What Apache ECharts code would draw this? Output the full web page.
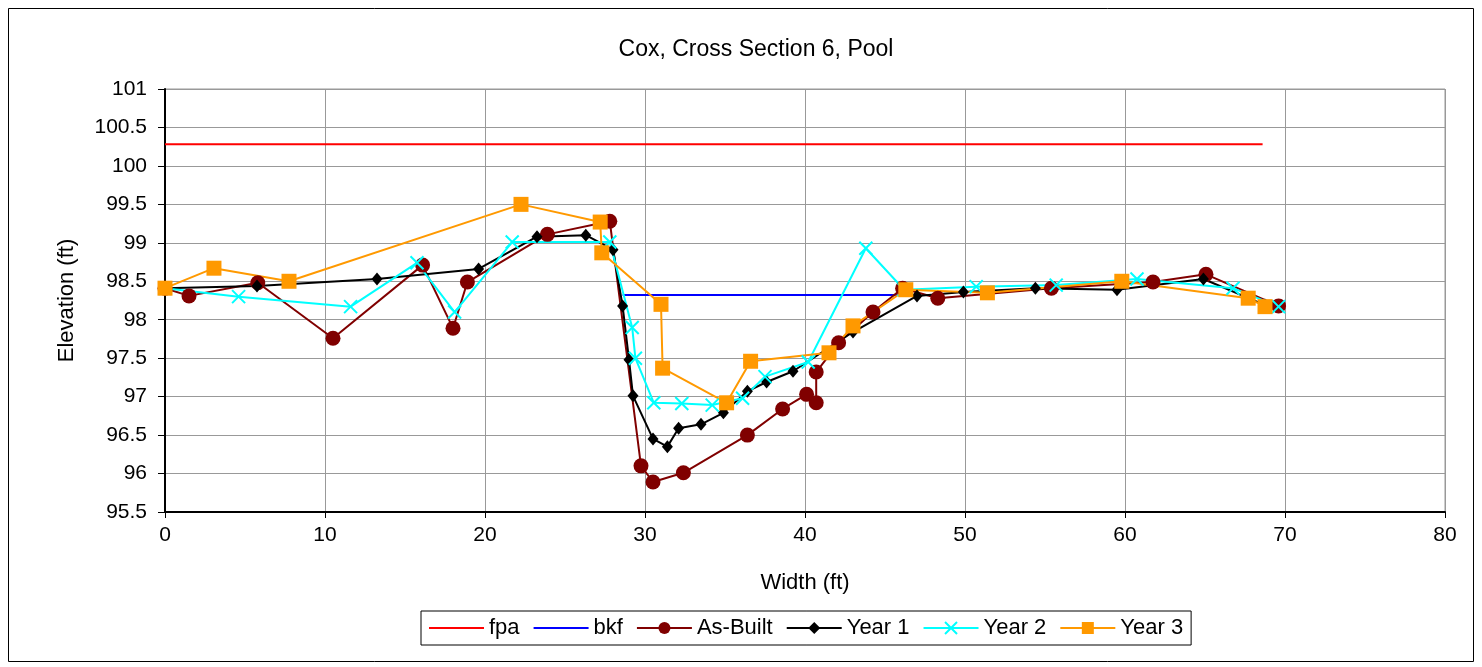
<!DOCTYPE html>
<html><head><meta charset="utf-8">
<script src="https://cdn.jsdelivr.net/npm/echarts@6/dist/echarts.min.js"></script>
<style>html,body{margin:0;padding:0;background:#fff}#c{width:1482px;height:667px}</style>
</head><body><div id="c"></div>
<script>
const titleText = 'Cox, Cross Section 6, Pool';
const fpa = [[0,100.28],[68.6,100.28]];
const bkf = [[28.6,98.32],[46.2,98.32]];
const asBuilt = [[0,98.41],[1.5,98.31],[5.8,98.48],[10.5,97.76],[16.1,98.71],[18.0,97.89],[18.9,98.49],[23.9,99.11],[27.8,99.28],[29.75,96.10],[30.5,95.89],[32.4,96.01],[36.4,96.50],[38.6,96.84],[40.1,97.03],[40.7,96.92],[40.7,97.32],[42.1,97.70],[44.25,98.10],[46.1,98.41],[48.3,98.28],[55.4,98.41],[61.75,98.49],[65.06,98.59],[69.6,98.18]];
const year1 = [[0,98.41],[5.75,98.44],[13.25,98.53],[19.6,98.66],[23.25,99.08],[26.3,99.10],[28.0,98.91],[28.6,98.18],[29.0,97.48],[29.25,97.01],[30.5,96.45],[31.4,96.35],[32.1,96.59],[33.5,96.64],[34.9,96.79],[36.4,97.07],[37.6,97.19],[39.25,97.33],[43.0,97.84],[47.0,98.31],[49.9,98.36],[54.4,98.41],[59.5,98.39],[64.9,98.53],[68.75,98.19]];
const year2 = [[0,98.41],[4.6,98.30],[11.6,98.17],[15.75,98.74],[18.1,98.10],[21.7,99.01],[27.8,99.01],[29.2,97.90],[29.4,97.50],[30.55,96.92],[32.3,96.91],[34.2,96.89],[36.1,96.98],[37.5,97.26],[40.2,97.45],[43.8,98.93],[46.2,98.39],[50.7,98.43],[55.7,98.45],[60.75,98.53],[66.75,98.41],[69.6,98.17]];
const year3 = [[0,98.41],[3.06,98.67],[7.75,98.50],[22.25,99.50],[27.2,99.27],[27.3,98.87],[31.0,98.20],[31.1,97.37],[35.1,96.92],[36.6,97.46],[41.5,97.57],[43.0,97.92],[46.3,98.39],[51.4,98.35],[59.8,98.50],[67.7,98.28],[68.75,98.17]];
const xLabel = 'Width (ft)';
const yLabel = 'Elevation (ft)';

const font = 'Liberation Sans, Arial, sans-serif';
const chart = echarts.init(document.getElementById('c'));
function ser(name, data, color, symbol, size, extra) {
  return Object.assign({
    name, type: 'line', data, symbol, symbolSize: size,
    showSymbol: symbol !== 'none',
    lineStyle: {color, width: 2},
    itemStyle: {color, borderColor: color, borderWidth: 0},
    animation: false
  }, extra || {});
}
chart.setOption({
  animation: false,
  backgroundColor: '#fff',
  title: {text: titleText, left: 751, top: 33, textAlign: 'center',
    textStyle: {fontFamily: font, fontSize: 23, fontWeight: 'normal', color: '#000'}},
  graphic: [{type: 'rect', shape: {x: 8.5, y: 8.5, width: 1465, height: 653},
    style: {fill: 'none', stroke: '#000', lineWidth: 1}, silent: true, z: -1}],
  grid: {left: 165, right: 37, top: 89, bottom: 155, show: true, borderColor: '#999', borderWidth: 1},
  legend: {
    left: 421, top: 611,
    padding: [6, 8, 6, 7],
    borderColor: '#000', borderWidth: 1,
    itemWidth: 55, itemHeight: 15, itemGap: 13,
    textStyle: {fontFamily: font, fontSize: 22, color: '#000'},
    data: [
      {name: 'fpa', itemStyle: {opacity: 0}},
      {name: 'bkf', itemStyle: {opacity: 0}},
      'As-Built', 'Year 1', 'Year 2', 'Year 3']
  },
  xAxis: {
    type: 'value', min: 0, max: 80, interval: 10,
    name: xLabel, nameLocation: 'middle', nameGap: 60,
    nameTextStyle: {fontFamily: font, fontSize: 22, color: '#000'},
    axisLine: {show: true, lineStyle: {color: '#000', width: 2}},
    axisTick: {show: true, inside: false, length: 6, lineStyle: {color: '#000'}},
    axisLabel: {fontFamily: font, fontSize: 21, color: '#000', margin: 13},
    splitLine: {show: true, lineStyle: {color: '#999', width: 1}}
  },
  yAxis: {
    type: 'value', min: 95.5, max: 101, interval: 0.5,
    name: yLabel, nameLocation: 'middle', nameGap: 87, nameRotate: 90,
    nameTextStyle: {fontFamily: font, fontSize: 22, color: '#000'},
    axisLine: {show: true, lineStyle: {color: '#000', width: 2}},
    axisTick: {show: true, length: 7, lineStyle: {color: '#000'}},
    axisLabel: {fontFamily: font, fontSize: 21, color: '#000', margin: 18},
    splitLine: {show: true, lineStyle: {color: '#999', width: 1}}
  },
  series: [
    ser('fpa', fpa, '#ff0000', 'none', 0),
    ser('bkf', bkf, '#0000ff', 'none', 0),
    ser('As-Built', asBuilt, '#800000', 'circle', 15),
    ser('Year 1', year1, '#000000', 'diamond', [11, 13]),
    ser('Year 2', year2, '#00ffff', 'path://M0,0L10,10M10,0L0,10', 13,
      {itemStyle: {color: 'none', borderColor: '#00ffff', borderWidth: 2}}),
    ser('Year 3', year3, '#ff9900', 'rect', 15)
  ]
});
</script></body></html>
